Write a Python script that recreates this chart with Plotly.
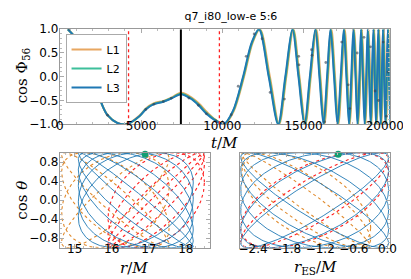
import numpy as np
import plotly.graph_objects as go

# ---------------- top panel data ----------------
t_L3 = [490, 1080, 1400, 2000, 2650, 2940, 3530, 4120, 4900, 5290, 5780, 6370, 6860, 7450, 8040, 8530, 9020, 9510, 10080,
        10650, 11270, 11800, 12250, 12850, 13430, 13870, 14310, 14680, 15050, 15380, 15720, 15970, 16220,
        16440, 16650, 16870, 17080, 17280, 17470, 17630, 17790, 17930, 18060, 18190, 18310, 18430, 18530,
        18640, 18750, 18850, 18940, 19030, 19120, 19200, 19290, 19370, 19450, 19520, 19590, 19660, 19740,
        19810, 19880, 19950, 20030, 20100, 20180, 20250, 20330]
v_L3 = [1.0, 0.77, 0.5, 0.0, -0.63, -0.81, -0.97, -1.0, -0.83, -0.69, -0.58, -0.53, -0.46, -0.37, -0.46, -0.6, -0.78, -0.91, -1.0,
        -0.72, 0.0, 0.72, 1.0, 0.0, -1.0, 0.0, 1.0, 0.0, -1.0, 0.0, 1.0, 0.0, -1.0,
        0.0, 1.0, 0.0, -1.0, 0.0, 1.0, 0.0, -1.0, 0.0, 1.0, 0.0, -1.0, 0.0, 1.0,
        0.0, -1.0, 0.0, 1.0, 0.0, -1.0, 0.0, 1.0, 0.0, -1.0, 0.0, 1.0, 0.0, -1.0,
        0.0, 1.0, 0.0, -1.0, 0.0, 1.0, 0.0, -1.0]
t_L1 = [490, 1080, 1400, 2000, 2650, 2940, 3530, 4120, 4910, 5300, 5800, 6390, 6880, 7470, 8070, 8570, 9060, 9550, 10120,
        10700, 11330, 11860, 12310, 12920, 13490, 13930, 14370, 14740, 15110, 15440, 15780, 16030, 16280,
        16500, 16710, 16930, 17140, 17340, 17530, 17690, 17850, 17990, 18120, 18250, 18370, 18490, 18590,
        18700, 18810, 18910, 19000, 19090, 19180, 19260, 19350, 19430, 19510, 19580, 19650, 19720, 19800,
        19870, 19940, 20010, 20090, 20160, 20240, 20310, 20390]
v_L1 = [1.0, 0.77, 0.5, 0.0, -0.63, -0.81, -0.97, -1.0, -0.82, -0.67, -0.56, -0.51, -0.44, -0.34, -0.43, -0.57, -0.75, -0.9, -1.0,
        -0.72, 0.0, 0.72, 1.0, 0.0, -1.0, 0.0, 1.0, 0.0, -1.0, 0.0, 1.0, 0.0, -1.0,
        0.0, 1.0, 0.0, -1.0, 0.0, 1.0, 0.0, -1.0, 0.0, 1.0, 0.0, -1.0, 0.0, 1.0,
        0.0, -1.0, 0.0, 1.0, 0.0, -1.0, 0.0, 1.0, 0.0, -1.0, 0.0, 1.0, 0.0, -1.0,
        0.0, 1.0, 0.0, -1.0, 0.0, 1.0, 0.0, -1.0]
t_L2 = [490, 1080, 1400, 2000, 2650, 2940, 3530, 4120, 4905, 5295, 5790, 6380, 6870, 7460, 8055, 8550, 9040, 9530, 10100,
        10670, 11300, 11830, 12280, 12880, 13460, 13900, 14340, 14710, 15080, 15410, 15750, 16000, 16250,
        16470, 16680, 16900, 17110, 17310, 17500, 17660, 17820, 17960, 18090, 18220, 18340, 18460, 18560,
        18670, 18780, 18880, 18970, 19060, 19150, 19230, 19320, 19400, 19480, 19550, 19620, 19690, 19770,
        19840, 19910, 19980, 20060, 20130, 20210, 20280, 20360]
v_L2 = [1.0, 0.77, 0.5, 0.0, -0.63, -0.81, -0.97, -1.0, -0.83, -0.68, -0.57, -0.52, -0.45, -0.36, -0.45, -0.59, -0.77, -0.9, -1.0,
        -0.72, 0.0, 0.72, 1.0, 0.0, -1.0, 0.0, 1.0, 0.0, -1.0, 0.0, 1.0, 0.0, -1.0,
        0.0, 1.0, 0.0, -1.0, 0.0, 1.0, 0.0, -1.0, 0.0, 1.0, 0.0, -1.0, 0.0, 1.0,
        0.0, -1.0, 0.0, 1.0, 0.0, -1.0, 0.0, 1.0, 0.0, -1.0, 0.0, 1.0, 0.0, -1.0,
        0.0, 1.0, 0.0, -1.0, 0.0, 1.0, 0.0, -1.0]

dots_t = [590, 1080, 2940, 4120, 5290, 5790, 6370, 6860, 7940, 8530, 9020, 9600, 10550, 10980, 11470, 11960,
          12450, 12940, 13820, 14700, 14720, 15490, 15520, 16370, 16300, 17350, 17750, 17840, 18720, 19120,
          19610, 19900, 20100, 18300, 19400, 20200]
dots_v = [1.0, 0.77, -0.81, -1.0, -0.69, -0.58, -0.52, -0.45, -0.45, -0.6, -0.78, -0.93, -0.8, -0.2, 0.43, 0.9,
          0.8, -0.33, -0.47, 0.43, 0.25, 0.57, 0.45, 0.3, -0.95, 0.73, -0.17, -0.67, 0.83, 0.63,
          -0.5, 0.73, -0.83, 0.5, -0.3, 0.1]

vlines_red = [4230, 9820]
vline_black = [7450]

top_xticks = [0, 5000, 10000, 15000, 20000]
top_yticks = [-1.0, -0.5, 0.0, 0.5, 1.0]

# ---------------- bottom panels: orbit loops (center, x-amp, y-amp, phase list) ----------------
left_blue = dict(cx=16.65, ax=1.55, ay=1.0, phases=[1.2, 1.55, 1.9, 2.25, 2.6, 2.95])
left_orange = dict(cx=16.1, ax=1.45, ay=1.0, phases=[0.5, 1.3, 2.2, 2.8])
left_red = dict(cx=17.2, ax=1.3, ay=1.0, phases=[0.12, 0.4, 0.75, 1.2])
right_blue = dict(cx=-1.3, ax=1.32, ay=1.0, phases=[0.45, 0.9, 1.35, 1.8, 2.25, 2.7])
right_orange = dict(cx=-1.45, ax=1.15, ay=1.0, phases=[2.2, 2.55, 2.9])
right_red = dict(cx=-1.3, ax=1.32, ay=1.0, phases=[0.55, 0.95])
marker_left = [16.9, 0.97]
marker_right = [-0.88, 0.97]

left_xticks = [15, 16, 17, 18]
right_xticks = [-2.4, -1.8, -1.2, -0.6, 0.0]
bottom_yticks = [-0.8, -0.4, 0.0, 0.4, 0.8]

# ---------------- colours ----------------
C_BLUE = "#1f78b4"
C_ORANGE = "#e08a2c"
C_GREEN = "#1bb48a"
C_RED = "#ff2020"


def loops(p):
    s = np.linspace(0, 2 * np.pi, 240)
    xs, ys = [], []
    for ph in p["phases"]:
        xs += list(p["cx"] + p["ax"] * np.cos(s)) + [None]
        ys += list(np.clip(p["ay"] * np.cos(s + ph), -1, 1)) + [None]
    return xs, ys


W, H = 411, 279
def dx(a, b):
    return [a / W, b / W]
def dy(top, bot):
    return [1 - bot / H, 1 - top / H]

fig = go.Figure()

spl = dict(shape="spline", smoothing=0.9)
fig.add_trace(go.Scatter(x=t_L1, y=v_L1, mode="lines", name="L1", line=dict(color=C_ORANGE, width=2.2, **spl), opacity=0.75, xaxis="x", yaxis="y"))
fig.add_trace(go.Scatter(x=t_L2, y=v_L2, mode="lines", name="L2", line=dict(color=C_GREEN, width=2, **spl), opacity=0.85, xaxis="x", yaxis="y"))
fig.add_trace(go.Scatter(x=t_L3, y=v_L3, mode="lines", name="L3", line=dict(color=C_BLUE, width=1.8, **spl), xaxis="x", yaxis="y"))
fig.add_trace(go.Scatter(x=dots_t, y=dots_v, mode="markers", showlegend=False, marker=dict(color="#304050", size=2.8, opacity=0.6), xaxis="x", yaxis="y"))

for xv in vlines_red:
    fig.add_trace(go.Scatter(x=[xv, xv], y=[-1, 1], mode="lines", showlegend=False, line=dict(color=C_RED, width=1.3, dash="dot"), xaxis="x", yaxis="y"))
for xv in vline_black:
    fig.add_trace(go.Scatter(x=[xv, xv], y=[-1, 1], mode="lines", showlegend=False, line=dict(color="black", width=2), xaxis="x", yaxis="y"))

for p, col, dash, w in [(left_orange, C_ORANGE, "dot", 1.1), (left_red, C_RED, "dot", 1.1), (left_blue, C_BLUE, "solid", 0.9)]:
    xs, ys = loops(p)
    fig.add_trace(go.Scatter(x=xs, y=ys, mode="lines", showlegend=False, line=dict(color=col, width=w, dash=dash), xaxis="x2", yaxis="y2"))
fig.add_trace(go.Scatter(x=[marker_left[0]], y=[marker_left[1]], mode="markers", showlegend=False, marker=dict(color="#129e73", size=7), xaxis="x2", yaxis="y2", cliponaxis=False))

for p, col, dash, w in [(right_orange, C_ORANGE, "dot", 1.1), (right_red, C_RED, "dot", 1.1), (right_blue, C_BLUE, "solid", 0.9)]:
    xs, ys = loops(p)
    fig.add_trace(go.Scatter(x=xs, y=ys, mode="lines", showlegend=False, line=dict(color=col, width=w, dash=dash), xaxis="x3", yaxis="y3"))
fig.add_trace(go.Scatter(x=[marker_right[0]], y=[marker_right[1]], mode="markers", showlegend=False, marker=dict(color="#129e73", size=7), xaxis="x3", yaxis="y3", cliponaxis=False))

tickfont = dict(family="DejaVu Sans", size=12, color="black")
labfont = dict(family="DejaVu Serif", size=15, color="black")
common = dict(showline=True, linecolor="#999999", mirror="allticks", ticks="inside", ticklen=4, tickcolor="#aaaaaa",
              showgrid=False, zeroline=False, tickfont=tickfont)
def minor(d):
    return dict(ticks="inside", ticklen=2, tickcolor="#bbbbbb", dtick=d, showgrid=False)

def fmt(v, nd):
    return f"{v:.{nd}f}".replace("-", "\u2212")

annotations = [
    dict(text="<i>t</i>/<i>M</i>", x=222 / W, y=1 - 135 / H),
    dict(text="cos Φ<sub>56</sub>", x=11 / W, y=1 - 64 / H, textangle=-90),
    dict(text="<i>r</i>/<i>M</i>", x=128 / W, y=1 - 266 / H),
    dict(text="<i>r</i><sub>ES</sub>/<i>M</i>", x=317 / W, y=1 - 266 / H),
    dict(text="cos <i>θ</i>", x=11 / W, y=1 - 195 / H, textangle=-90),
]
for a in annotations:
    a.update(xref="paper", yref="paper", xanchor="center", yanchor="middle", showarrow=False, font=labfont)

xstand = dict(ticklabelstandoff=-10)
ystand = dict(ticklabelstandoff=-2)

fig.update_layout(
    width=W, height=H, margin=dict(l=0, r=0, t=0, b=0),
    paper_bgcolor="white", plot_bgcolor="white",
    showlegend=True, annotations=annotations,
    legend=dict(x=56 / W, y=1 - 20 / H, xanchor="left", yanchor="top", bgcolor="white", bordercolor="#aaaaaa", borderwidth=1,
                font=dict(family="DejaVu Sans", size=11, color="black"), itemwidth=30, tracegroupgap=0),
    title=dict(text="q7_i80_low-e 5:6", x=223 / W, xanchor="center", y=1 - 8 / H, yanchor="middle",
               font=dict(family="DejaVu Sans", size=11, color="black")),
    xaxis=dict(domain=dx(50, 395), range=[0, 20300], anchor="y", tickvals=top_xticks, ticktext=[str(v) for v in top_xticks],
               minor=minor(1000), **xstand, **common),
    yaxis=dict(domain=dy(15, 115), range=[-1, 1], anchor="x", tickvals=top_yticks, ticktext=[fmt(v, 1) for v in top_yticks],
               minor=minor(0.1), **ystand, **common),
    xaxis2=dict(domain=dx(50, 207), range=[14.6, 18.65], anchor="y2", tickvals=left_xticks, ticktext=[str(v) for v in left_xticks],
                minor=minor(0.25), **xstand, **common),
    yaxis2=dict(domain=dy(145, 245), range=[-1, 1], anchor="x2", tickvals=bottom_yticks, ticktext=[fmt(v, 1) for v in bottom_yticks],
                minor=minor(0.1), **ystand, **common),
    xaxis3=dict(domain=dx(238, 395), range=[-2.64, 0.04], anchor="y3", tickvals=right_xticks, ticktext=[fmt(v, 1) for v in right_xticks],
                minor=minor(0.15), **xstand, **common),
    yaxis3=dict(domain=dy(145, 245), range=[-1, 1], anchor="x3", tickvals=bottom_yticks, showticklabels=False,
                minor=minor(0.1), **common),
)

fig.write_html("out.html")
